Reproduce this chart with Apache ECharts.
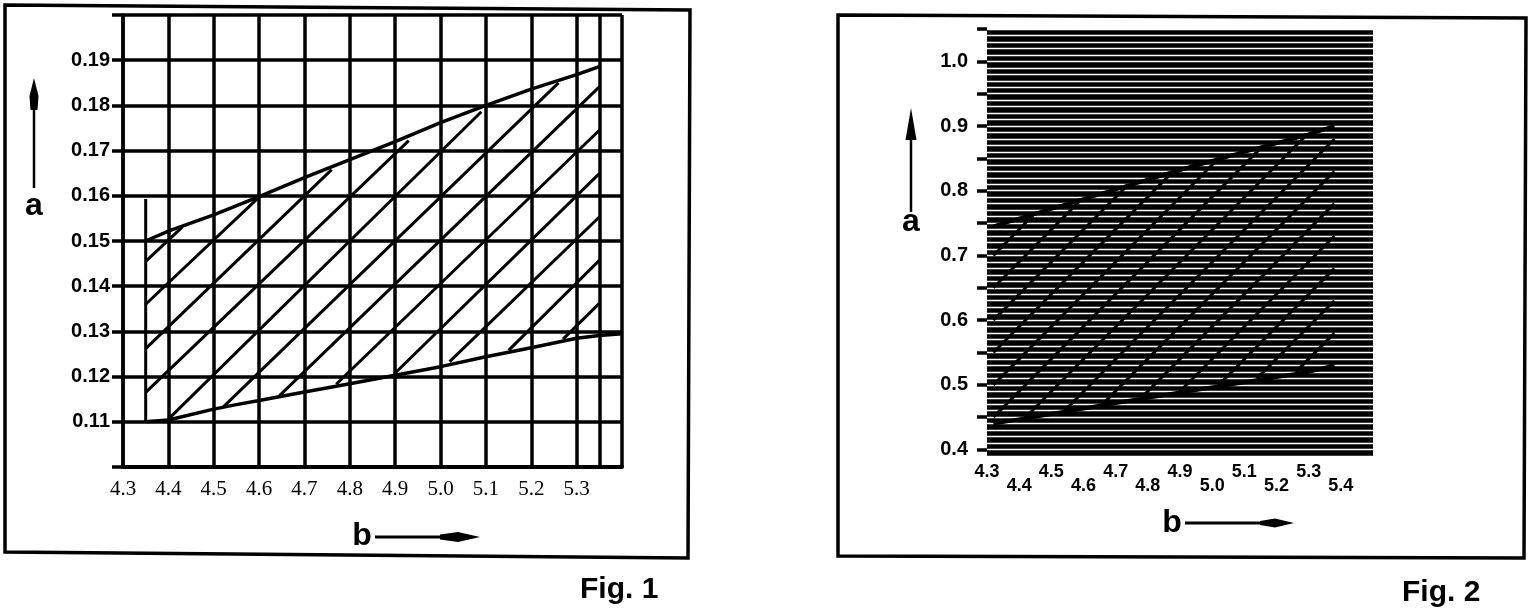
<!DOCTYPE html>
<html>
<head>
<meta charset="utf-8">
<script src="https://cdn.jsdelivr.net/npm/echarts@6/dist/echarts.min.js"></script>
<style>
html,body{margin:0;padding:0;background:#fff;}
#c{width:1536px;height:612px;}
</style>
</head>
<body>
<div id="c"></div>
<script>
// ---------- Fig. 1 data ----------
const fig1XLabels = ['4.3','4.4','4.5','4.6','4.7','4.8','4.9','5.0','5.1','5.2','5.3'];
const fig1YLabels = ['0.11','0.12','0.13','0.14','0.15','0.16','0.17','0.18','0.19'];
const fig1ExtraVertical = [5.35];
const fig1Upper = [[4.35,0.1500],[4.40,0.1522],[4.50,0.1558],[4.60,0.1598],[4.70,0.1640],[4.80,0.1680],[4.90,0.1720],[5.00,0.1762],[5.10,0.1800],[5.20,0.1836],[5.30,0.1868],[5.35,0.1886]];
const fig1Lower = [[4.35,0.1100],[4.40,0.1104],[4.50,0.1128],[4.55,0.1138],[4.60,0.1147],[4.70,0.1166],[4.80,0.1184],[4.90,0.1203],[5.00,0.1222],[5.10,0.1244],[5.20,0.1264],[5.30,0.1285],[5.35,0.1291],[5.40,0.1295]];
const fig1LeftEdge = [[4.35,0.1100],[4.35,0.1593]];
const fig1Hatch = [
  [[4.35,0.1455],[4.43,0.1530]],
  [[4.35,0.1360],[4.60,0.1597]],
  [[4.35,0.1262],[4.76,0.1658]],
  [[4.35,0.1165],[4.93,0.1722]],
  [[4.40,0.1106],[5.09,0.1786]],
  [[4.52,0.1132],[5.26,0.1850]],
  [[4.645,0.1158],[5.35,0.1841]],
  [[4.77,0.1183],[5.35,0.1745]],
  [[4.90,0.1208],[5.35,0.1649]],
  [[5.02,0.1233],[5.35,0.1553]],
  [[5.15,0.1258],[5.35,0.1457]],
  [[5.27,0.1283],[5.35,0.1362]]
];

// ---------- Fig. 2 data ----------
const fig2XLabels = ['4.3','4.4','4.5','4.6','4.7','4.8','4.9','5.0','5.1','5.2','5.3','5.4'];
const fig2YLabelValues = [0.4,0.5,0.6,0.7,0.8,0.9,1.0];
const fig2YTickValues = [0.4,0.45,0.5,0.55,0.6,0.65,0.7,0.75,0.8,0.85,0.9,0.95,1.0,1.05];
const fig2Upper = [[4.32,0.745],[4.50,0.772],[4.70,0.802],[4.90,0.832],[5.10,0.860],[5.30,0.887],[5.38,0.900]];
const fig2Lower = [[4.32,0.440],[4.50,0.455],[4.70,0.472],[4.90,0.488],[5.10,0.504],[5.30,0.520],[5.38,0.530]];
const fig2Hatch = [
  [[4.32,0.700],[4.447,0.764]],
  [[4.32,0.650],[4.588,0.784]],
  [[4.32,0.600],[4.730,0.805]],
  [[4.32,0.550],[4.871,0.826]],
  [[4.32,0.500],[5.012,0.846]],
  [[4.32,0.450],[5.153,0.867]],
  [[4.416,0.448],[5.295,0.887]],
  [[4.537,0.458],[5.38,0.880]],
  [[4.657,0.469],[5.38,0.830]],
  [[4.778,0.479],[5.38,0.780]],
  [[4.898,0.489],[5.38,0.730]],
  [[5.019,0.499],[5.38,0.680]],
  [[5.139,0.510],[5.38,0.630]],
  [[5.260,0.520],[5.38,0.580]]
];

const BOLD = "'Liberation Sans', Arial, sans-serif";
const SERIF = "'Liberation Serif', 'Times New Roman', serif";

function lineSeries(data, xi, yi, w) {
  return {
    type: 'line', data: data, xAxisIndex: xi, yAxisIndex: yi,
    showSymbol: false, symbol: 'none', silent: true, z: 5,
    lineStyle: { color: '#000', width: w }
  };
}

const series = [];
// Fig 1
series.push(Object.assign(lineSeries(fig1Upper, 0, 0, 3.5), {
  markLine: {
    silent: true, symbol: ['none','none'], label: { show: false },
    lineStyle: { color: '#000', width: 3.5, type: 'solid' },
    data: fig1ExtraVertical.map(v => ({ xAxis: v }))
  }
}));
series.push(lineSeries(fig1Lower, 0, 0, 3.5));
series.push(lineSeries(fig1LeftEdge, 0, 0, 3));
fig1Hatch.forEach(h => series.push(lineSeries(h, 0, 0, 3)));
// Fig 2
series.push(lineSeries(fig2Upper, 1, 1, 4));
series.push(lineSeries(fig2Lower, 1, 1, 4));
fig2Hatch.forEach(h => series.push(lineSeries(h, 1, 1, 3)));

const chart = echarts.init(document.getElementById('c'));
chart.setOption({
  animation: false,
  backgroundColor: '#fff',
  grid: [
    { left: 123, top: 15, width: 499, height: 452, containLabel: false },
    { left: 987, top: 29, width: 386, height: 427, show: true, backgroundColor: '#000', borderWidth: 0, containLabel: false }
  ],
  xAxis: [
    {
      type: 'value', gridIndex: 0, min: 4.3, max: 5.4, interval: 0.1,
      axisLine: { show: true, lineStyle: { color: '#000', width: 4 } },
      axisTick: { show: false },
      axisLabel: {
        showMinLabel: true, showMaxLabel: true, margin: 12,
        color: '#000', fontFamily: SERIF, fontSize: 21,
        formatter: v => { const s = v.toFixed(1); return fig1XLabels.includes(s) ? s : ''; }
      },
      splitLine: { show: true, lineStyle: { color: '#000', width: 3.5 } }
    },
    {
      type: 'value', gridIndex: 1, min: 4.3, max: 5.5, interval: 0.1,
      axisLine: { show: false }, axisTick: { show: false },
      splitLine: { show: false },
      axisLabel: {
        showMinLabel: true, showMaxLabel: true, margin: 7,
        formatter: v => {
          const s = v.toFixed(1); const i = fig2XLabels.indexOf(s);
          if (i < 0) return '';
          return i % 2 === 0 ? '{hi|' + s + '}' : '{lo|' + s + '}';
        },
        rich: {
          hi: { fontFamily: BOLD, fontWeight: 'bold', fontSize: 18, color: '#000' },
          lo: { fontFamily: BOLD, fontWeight: 'bold', fontSize: 18, color: '#000', padding: [14, 0, 0, 0] }
        }
      }
    }
  ],
  yAxis: [
    {
      type: 'value', gridIndex: 0, min: 0.10, max: 0.20, interval: 0.01,
      axisLine: { show: true, lineStyle: { color: '#000', width: 3.5 } },
      axisTick: { show: true, length: 11, lineStyle: { color: '#000', width: 3.5 } },
      axisLabel: {
        showMinLabel: true, showMaxLabel: true, margin: 13,
        color: '#000', fontFamily: BOLD, fontWeight: 'bold', fontSize: 20,
        formatter: v => { const s = v.toFixed(2); return fig1YLabels.includes(s) ? s : ''; }
      },
      splitLine: { show: true, lineStyle: { color: '#000', width: 3.5 } }
    },
    {
      type: 'value', gridIndex: 1, min: 0.39, max: 1.05, interval: 0.01,
      axisLine: { show: false }, axisTick: { show: false }, axisLabel: { show: false },
      splitLine: { show: true, lineStyle: { color: '#fff', width: 1.4 } }
    },
    {
      type: 'value', gridIndex: 1, min: 0.39, max: 1.05, position: 'left', offset: 0,
      axisLine: { show: false },
      axisTick: { show: true, length: 10, customValues: fig2YTickValues, lineStyle: { color: '#000', width: 3.5 } },
      axisLabel: {
        show: true, margin: 19, customValues: fig2YLabelValues,
        color: '#000', fontFamily: BOLD, fontWeight: 'bold', fontSize: 20,
        formatter: v => v.toFixed(1)
      },
      splitLine: { show: false }
    }
  ],
  series: series,
  graphic: [
    // frames
    { type: 'polygon', shape: { points: [[5,5],[690,10],[688,558],[5,552]] }, style: { fill: 'none', stroke: '#000', lineWidth: 3.5 }, z: 100 },
    { type: 'polygon', shape: { points: [[838,15],[1526,18],[1524,558],[838,556]] }, style: { fill: 'none', stroke: '#000', lineWidth: 3.5 }, z: 100 },
    // Fig 1 axis names and arrows
    { type: 'text', x: 34, y: 206, style: { text: 'a', font: 'bold 32px ' + BOLD, fill: '#000', align: 'center', verticalAlign: 'middle' }, z: 100 },
    { type: 'line', shape: { x1: 34, y1: 100, x2: 34, y2: 188 }, style: { stroke: '#000', lineWidth: 2.5 }, z: 100 },
    { type: 'polygon', shape: { points: [[34,78],[38.5,96],[37.5,110],[30.5,110],[29.5,96]] }, style: { fill: '#000' }, z: 100 },
    { type: 'text', x: 362, y: 536, style: { text: 'b', font: 'bold 32px ' + BOLD, fill: '#000', align: 'center', verticalAlign: 'middle' }, z: 100 },
    { type: 'line', shape: { x1: 375, y1: 537, x2: 460, y2: 537 }, style: { stroke: '#000', lineWidth: 3 }, z: 100 },
    { type: 'polygon', shape: { points: [[480,537],[458,532],[440,534.5],[440,539.5],[458,542]] }, style: { fill: '#000' }, z: 100 },
    { type: 'text', x: 580, y: 590, style: { text: 'Fig. 1', font: 'bold 30px ' + BOLD, fill: '#000', align: 'left', verticalAlign: 'middle' }, z: 100 },
    // Fig 2 axis names and arrows
    { type: 'text', x: 911, y: 222, style: { text: 'a', font: 'bold 32px ' + BOLD, fill: '#000', align: 'center', verticalAlign: 'middle' }, z: 100 },
    { type: 'line', shape: { x1: 911, y1: 130, x2: 911, y2: 212 }, style: { stroke: '#000', lineWidth: 2.5 }, z: 100 },
    { type: 'polygon', shape: { points: [[911,108],[916.5,140],[905.5,140]] }, style: { fill: '#000' }, z: 100 },
    { type: 'text', x: 1172, y: 523, style: { text: 'b', font: 'bold 32px ' + BOLD, fill: '#000', align: 'center', verticalAlign: 'middle' }, z: 100 },
    { type: 'line', shape: { x1: 1185, y1: 523, x2: 1275, y2: 523 }, style: { stroke: '#000', lineWidth: 3 }, z: 100 },
    { type: 'polygon', shape: { points: [[1294,523],[1275,518.5],[1260,521],[1260,525],[1275,527.5]] }, style: { fill: '#000' }, z: 100 },
    { type: 'text', x: 1402, y: 593, style: { text: 'Fig. 2', font: 'bold 30px ' + BOLD, fill: '#000', align: 'left', verticalAlign: 'middle' }, z: 100 }
  ]
});
</script>
</body>
</html>
